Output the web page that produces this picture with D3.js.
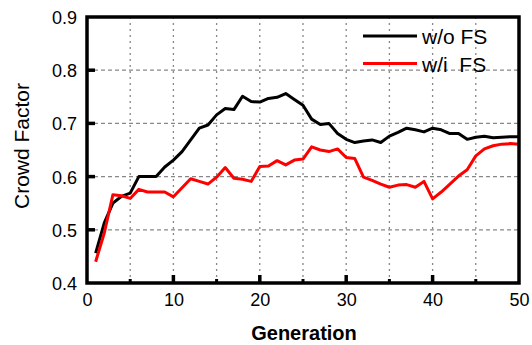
<!DOCTYPE html>
<html lang="en">
<head>
<meta charset="UTF-8">
<script src="https://d3js.org/d3.v7.min.js"></script>
<title>Crowd Factor vs Generation</title>
<style>
  body { margin: 0; background: #fff; }
  text { font-family: "Liberation Sans", Arial, sans-serif; }
</style>
</head>
<body>
<script>
// data
const generations = d3.range(1, 51);
const withoutFS = [0.456, 0.513, 0.550, 0.563, 0.569, 0.600, 0.600, 0.600, 0.618, 0.631,
  0.647, 0.669, 0.691, 0.697, 0.716, 0.728, 0.726, 0.751, 0.741, 0.740,
  0.747, 0.749, 0.756, 0.745, 0.734, 0.708, 0.698, 0.700, 0.681, 0.670,
  0.664, 0.667, 0.669, 0.664, 0.676, 0.683, 0.691, 0.688, 0.684, 0.691,
  0.688, 0.681, 0.681, 0.670, 0.674, 0.676, 0.673, 0.674, 0.675, 0.675];
const withFS = [0.440, 0.494, 0.566, 0.564, 0.559, 0.576, 0.571, 0.571, 0.571, 0.562,
  0.579, 0.596, 0.591, 0.586, 0.599, 0.617, 0.597, 0.595, 0.591, 0.619,
  0.620, 0.630, 0.622, 0.631, 0.633, 0.656, 0.650, 0.647, 0.652, 0.636,
  0.634, 0.599, 0.593, 0.586, 0.580, 0.584, 0.585, 0.580, 0.591, 0.558,
  0.571, 0.586, 0.601, 0.613, 0.639, 0.652, 0.658, 0.661, 0.662, 0.661];
const series = [
  { name: 'w/o FS', values: withoutFS, color: '#000000' },
  { name: 'w/i  FS', values: withFS, color: '#ff0000' }
];
const xTicks = [0, 10, 20, 30, 40, 50];
const xMinor = [5, 15, 25, 35, 45];
const yTicks = [0.4, 0.5, 0.6, 0.7, 0.8, 0.9];

const W = 532, H = 345;
const margin = { top: 17, right: 13, bottom: 62, left: 87 };

const svg = d3.select('body').append('svg')
  .attr('width', W).attr('height', H);

const x = d3.scaleLinear().domain([0, 50]).range([margin.left, W - margin.right]);
const y = d3.scaleLinear().domain([0.4, 0.9]).range([H - margin.bottom, margin.top]);

// grid
const grid = svg.append('g');
grid.selectAll('.vg').data(xMinor.concat(xTicks.slice(1, -1)))
  .enter().append('line')
  .attr('x1', d => x(d)).attr('x2', d => x(d))
  .attr('y1', y(0.9)).attr('y2', y(0.4))
  .attr('stroke', '#888').attr('stroke-width', 1.3)
  .attr('stroke-dasharray', '2,4');
grid.selectAll('.hg').data(yTicks.slice(1, -1))
  .enter().append('line')
  .attr('x1', x(0)).attr('x2', x(50))
  .attr('y1', d => y(d)).attr('y2', d => y(d))
  .attr('stroke', '#888').attr('stroke-width', 1.3)
  .attr('stroke-dasharray', '4,3');

// lines
const line = d3.line()
  .x((d, i) => x(generations[i]))
  .y(d => y(d));

svg.selectAll('.series').data(series)
  .enter().append('path')
  .attr('d', d => line(d.values))
  .attr('fill', 'none')
  .attr('stroke', d => d.color)
  .attr('stroke-width', 3)
  .attr('stroke-linejoin', 'round');

// axes
const xAxis = svg.append('g')
  .attr('transform', `translate(0,${y(0.4)})`)
  .call(d3.axisBottom(x).tickValues(xTicks).tickSize(0).tickPadding(10));
const yAxis = svg.append('g')
  .attr('transform', `translate(${x(0)},0)`)
  .call(d3.axisLeft(y).tickValues(yTicks).tickFormat(d3.format('.1f')).tickSize(0).tickPadding(10));
[xAxis, yAxis].forEach(a => {
  a.select('.domain').remove();
  a.selectAll('text').style('font-size', '18px').attr('fill', '#000');
});
yAxis.selectAll('text').attr('dy', '0.36em');

// inward ticks
svg.selectAll('.xt').data(xTicks.slice(1, -1))
  .enter().append('line')
  .attr('x1', d => x(d)).attr('x2', d => x(d))
  .attr('y1', y(0.4)).attr('y2', y(0.4) - 8)
  .attr('stroke', '#000').attr('stroke-width', 3.5);
svg.selectAll('.xm').data(xMinor)
  .enter().append('line')
  .attr('x1', d => x(d)).attr('x2', d => x(d))
  .attr('y1', y(0.4)).attr('y2', y(0.4) - 4)
  .attr('stroke', '#000').attr('stroke-width', 3);
svg.selectAll('.yt').data(yTicks.slice(1, -1))
  .enter().append('line')
  .attr('x1', x(0)).attr('x2', x(0) + 8)
  .attr('y1', d => y(d)).attr('y2', d => y(d))
  .attr('stroke', '#000').attr('stroke-width', 3.5);

// frame
svg.append('rect')
  .attr('x', x(0)).attr('y', y(0.9))
  .attr('width', x(50) - x(0)).attr('height', y(0.4) - y(0.9))
  .attr('fill', 'none').attr('stroke', '#000').attr('stroke-width', 3.5);

// axis titles
svg.append('text')
  .attr('x', (x(0) + x(50)) / 2 + 1).attr('y', 340)
  .attr('text-anchor', 'middle')
  .style('font-size', '20px').style('font-weight', 'bold')
  .text('Generation');
svg.append('text')
  .attr('transform', `translate(29,${146}) rotate(-90)`)
  .attr('text-anchor', 'middle')
  .style('font-size', '21px')
  .text('Crowd Factor');

// legend
const legend = svg.append('g');
series.forEach((s, i) => {
  const ly = 36 + i * 27.5;
  legend.append('line')
    .attr('x1', 363).attr('x2', 417)
    .attr('y1', ly).attr('y2', ly)
    .attr('stroke', s.color).attr('stroke-width', 3);
  legend.append('text')
    .attr('x', 422).attr('y', ly + 8)
    .style('font-size', '21px')
    .style('white-space', 'pre')
    .text(s.name);
});
</script>
</body>
</html>
